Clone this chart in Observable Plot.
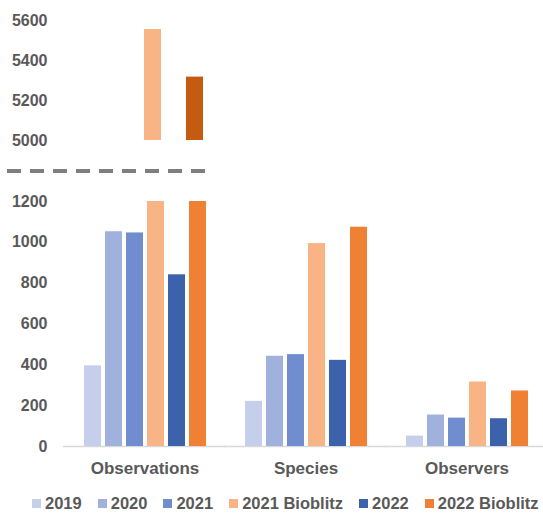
<!DOCTYPE html>
<html><head><meta charset="utf-8">
<script src="https://cdn.jsdelivr.net/npm/d3@7"></script>
<script src="https://cdn.jsdelivr.net/npm/@observablehq/plot@0.6"></script>
<style>
body{margin:0;background:#fff;font-family:"Liberation Sans",Arial,sans-serif;}
#chart{position:relative;width:543px;height:513px;overflow:hidden;background:#fff}
#chart > *{position:absolute}
.lg-swatches-wrap{flex-wrap:nowrap !important;white-space:nowrap}
.lg-swatch{margin-right:16px !important}
.lg-swatch > svg{margin-right:4px !important}
</style></head><body><div id="chart"></div>
<script>
const categories = ["Observations", "Species", "Observers"];
const series = ["2019", "2020", "2021", "2021 Bioblitz", "2022", "2022 Bioblitz"];
const observations = [395, 1052, 1046, 5555, 841, 5317];
const species = [221, 442, 450, 994, 422, 1074];
const observers = [51, 154, 139, 316, 136, 272];
const colors = ["#C5CEEB", "#A1B1DE", "#6F8DCF", "#F8B484", "#3B62AA", "#F08033"];
const topColors = ["#C5CEEB", "#A1B1DE", "#6F8DCF", "#F8B484", "#3B62AA", "#C55A11"];
const topTicks = [5000, 5200, 5400, 5600];
const bottomTicks = [0, 200, 400, 600, 800, 1000, 1200];
const breakBase = 5000;

const valuesByCat = [observations, species, observers];
const rows = categories.flatMap((c, i) => series.map((s, j) => ({category: c, series: s, value: valuesByCat[i][j]})));

const font = {fontFamily: '"Liberation Sans", Arial, sans-serif', fontWeight: "bold", color: "#595959", background: "transparent", overflow: "visible"};

const topPlot = Plot.plot({
  width: 543, height: 180, marginLeft: 61, marginRight: 0, marginTop: 20, marginBottom: 40,
  style: font,
  fx: {domain: categories, range: [61, 544], paddingInner: 0.2, paddingOuter: 0.1, axis: null},
  x: {domain: series, paddingInner: 0.2, paddingOuter: 0.1, axis: null},
  y: {domain: [5000, 5600], axis: null},
  color: {domain: series, range: topColors},
  marks: [
    Plot.axisY({ticks: topTicks, tickFormat: d => String(d), tickSize: 0, tickPadding: 30, label: null, fontSize: 16}),
    Plot.barY(rows.filter(d => d.value >= breakBase), {fx: "category", x: "series", y1: breakBase, y2: "value", fill: "series"})
  ]
});

const bottomPlot = Plot.plot({
  width: 543, height: 300, marginLeft: 64, marginRight: 0, marginTop: 21, marginBottom: 34,
  style: font,
  fx: {domain: categories, range: [64, 547], paddingInner: 0.2, paddingOuter: 0.1, axis: null},
  x: {domain: series, paddingInner: 0.2, paddingOuter: 0.1, axis: null},
  y: {domain: [0, 1200], clamp: true, axis: null},
  color: {domain: series, range: colors},
  marks: [
    Plot.axisY({ticks: bottomTicks, tickFormat: d => String(d), tickSize: 0, tickPadding: 33, label: null, fontSize: 16}),
    Plot.axisFx({tickSize: 0, tickPadding: 15, label: null, fontSize: 17, anchor: "bottom"}),
    Plot.ruleY([0], {stroke: "#D9D9D9", strokeWidth: 1.5, insetLeft: -17, insetRight: -17}),
    Plot.barY(rows, {fx: "category", x: "series", y: "value", fill: "series"})
  ]
});

const legend = Plot.legend({
  color: {domain: series, range: colors}, legend: "swatches", swatchSize: 9, className: "lg",
  style: {fontFamily: '"Liberation Sans", Arial, sans-serif', fontWeight: "bold", fontSize: "16.5px", color: "#595959"}
});

const chart = document.getElementById("chart");
topPlot.style.top = "0px"; topPlot.style.left = "0px";
bottomPlot.style.top = "180px"; bottomPlot.style.left = "0px";
legend.style.top = "487px"; legend.style.left = "32px"; legend.style.width = "560px";
chart.append(topPlot, bottomPlot, legend);

// axis-break marker below the upper panel
const yTop = topPlot.scale("y");
const breakY = yTop.apply(breakBase) + 31;
d3.select(topPlot).append("line")
  .attr("x1", 7).attr("x2", 209).attr("y1", breakY).attr("y2", breakY)
  .attr("stroke", "#7F7F7F").attr("stroke-width", 4).attr("stroke-dasharray", "14 9");
</script></body></html>
